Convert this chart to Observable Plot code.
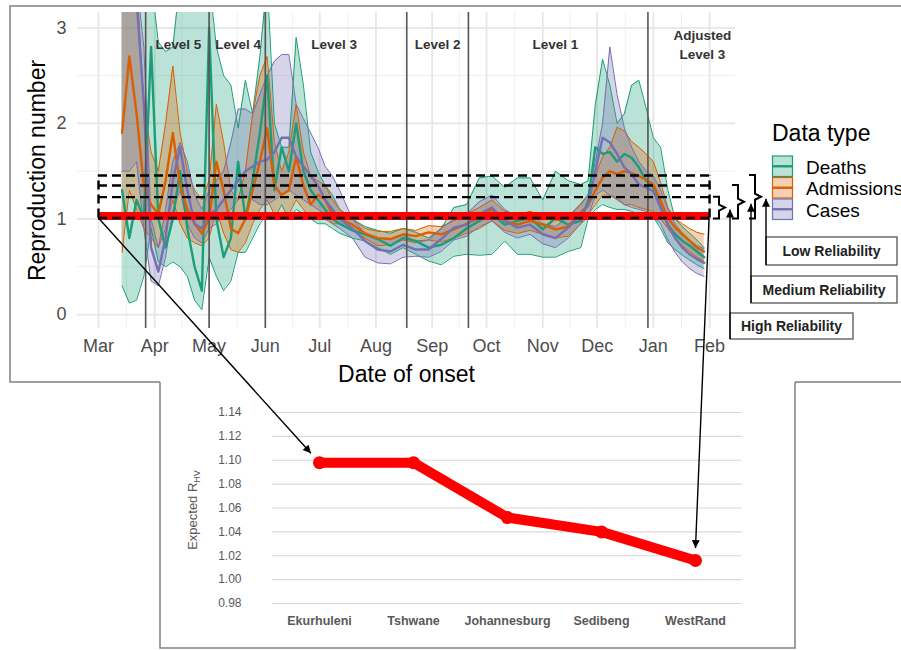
<!DOCTYPE html>
<html><head><meta charset="utf-8">
<script src="https://cdn.jsdelivr.net/npm/d3@7"></script>
<script src="https://cdn.jsdelivr.net/npm/@observablehq/plot@0.6"></script>
<style>
html,body{margin:0;padding:0;background:#fff;}
#wrap{position:relative;width:901px;height:650px;overflow:hidden;background:#fff;font-family:"Liberation Sans",Arial,sans-serif;}
</style></head><body><div id="wrap"></div>
<script>
// ---------------- data: top panel (reproduction number) ----------------
const dateStrs = ["2020-03-14","2020-03-18","2020-03-22","2020-03-26","2020-03-30","2020-04-03","2020-04-07","2020-04-11","2020-04-15","2020-04-19","2020-04-23","2020-04-27","2020-05-01","2020-05-05","2020-05-09","2020-05-13","2020-05-17","2020-05-21","2020-05-25","2020-05-29","2020-06-02","2020-06-06","2020-06-10","2020-06-14","2020-06-18","2020-06-22","2020-06-26","2020-06-30","2020-07-04","2020-07-08","2020-07-12",
"2020-07-19","2020-07-26","2020-08-02","2020-08-09","2020-08-16","2020-08-23","2020-08-30","2020-09-06","2020-09-13","2020-09-20","2020-09-27","2020-10-04","2020-10-11","2020-10-18","2020-10-25","2020-11-01","2020-11-08","2020-11-15","2020-11-22",
"2020-11-26","2020-11-30","2020-12-04","2020-12-08","2020-12-12","2020-12-16","2020-12-20","2020-12-24","2020-12-28","2021-01-01","2021-01-05","2021-01-09","2021-01-13","2021-01-17","2021-01-21","2021-01-25","2021-01-29"];

const deathsMean = [1.3,0.8,1.2,1.0,2.8,1.0,0.7,1.0,1.5,0.9,0.5,0.25,3.0,1.0,0.6,0.8,1.6,1.0,1.4,1.9,2.5,1.3,1.75,1.5,2.0,1.5,1.3,1.2,1.1,1.0,0.95,
 0.88,0.84,0.79,0.72,0.8,0.77,0.7,0.73,0.8,0.9,0.98,1.05,0.94,0.98,1.01,0.89,1.01,0.94,0.98,
 1.19,1.75,1.68,1.7,1.6,1.68,1.64,1.54,1.4,1.33,1.12,0.94,0.84,0.77,0.72,0.66,0.6];
const deathsLo = [0.3,0.12,0.15,0.4,0.9,0.55,0.5,0.55,0.5,0.4,0.15,0.05,0.6,0.4,0.25,0.35,0.65,0.65,0.8,0.95,1.05,1.0,1.15,1.0,1.1,1.05,1.0,0.95,0.95,0.9,0.85,
 0.8,0.77,0.7,0.63,0.7,0.63,0.56,0.52,0.61,0.63,0.62,0.63,0.77,0.63,0.63,0.6,0.6,0.66,0.7,
 1.0,1.1,1.15,1.12,1.1,1.1,1.08,1.05,1.05,1.02,0.9,0.75,0.68,0.62,0.57,0.52,0.48];
const deathsHi = [3.5,3.5,3.5,3.5,3.5,2.85,2.75,2.8,3.5,3.5,3.5,3.5,3.5,2.8,2.5,2.4,1.95,2.45,2.1,2.7,3.5,2.0,1.75,1.75,2.9,2.4,1.7,1.5,1.35,1.25,1.1,
 1.0,0.92,0.88,0.85,0.9,0.86,0.8,0.9,1.12,1.15,1.43,1.45,1.33,1.43,1.43,1.2,1.5,1.4,1.36,
 1.4,2.2,2.67,2.4,2.0,2.1,2.4,2.45,2.16,1.85,1.75,1.3,1.0,0.92,0.85,0.78,0.7];

const admissionsMean = [1.9,2.7,2.1,1.35,1.15,1.05,1.4,1.9,1.35,1.1,0.95,0.85,1.0,1.6,1.3,0.9,0.85,1.0,1.3,1.6,1.95,1.35,1.25,1.3,1.65,1.35,1.15,1.25,1.2,1.05,1.0,
 0.94,0.85,0.8,0.79,0.84,0.82,0.86,0.84,0.89,0.95,1.01,1.1,0.98,0.94,0.98,0.94,0.89,0.92,1.07,
 1.14,1.3,1.43,1.5,1.47,1.5,1.48,1.45,1.41,1.36,1.19,1.01,0.91,0.84,0.77,0.7,0.66];
const admissionsLo = [0.65,1.3,1.1,0.9,0.8,0.7,0.9,1.2,0.95,0.8,0.75,0.72,0.8,1.1,0.85,0.68,0.65,0.75,0.95,1.1,1.2,1.05,1.05,1.05,1.2,1.1,1.0,1.05,1.0,0.95,0.95,
 0.88,0.8,0.72,0.73,0.78,0.75,0.78,0.76,0.8,0.85,0.9,0.98,0.88,0.85,0.88,0.84,0.8,0.82,0.95,
 1.05,1.15,1.25,1.25,1.22,1.15,1.15,1.12,1.1,1.08,1.0,0.9,0.8,0.72,0.66,0.6,0.56];
const admissionsHi = [3.5,3.5,3.5,2.2,1.7,1.5,2.0,2.6,1.9,1.5,1.3,1.2,1.4,2.2,1.8,1.3,1.2,1.5,2.1,2.5,2.7,1.8,1.5,1.7,2.2,1.7,1.45,1.4,1.35,1.2,1.1,
 1.0,0.9,0.87,0.87,0.9,0.88,0.93,0.92,0.98,1.05,1.12,1.2,1.08,1.04,1.08,1.03,0.98,1.02,1.16,
 1.25,1.45,1.65,1.75,1.96,1.92,1.81,1.75,1.68,1.6,1.38,1.12,1.0,0.95,0.9,0.86,0.84];

const casesMean = [3.5,3.5,3.3,2.2,0.7,0.45,0.8,1.4,1.75,1.3,0.95,0.9,1.05,1.1,1.2,1.3,1.4,1.5,1.55,1.6,1.62,1.7,1.85,1.85,1.65,1.55,1.45,1.35,1.2,1.1,1.0,
 0.9,0.77,0.68,0.66,0.73,0.68,0.68,0.79,0.91,0.94,1.05,1.12,0.98,0.91,0.94,0.84,0.8,0.91,1.05,
 1.14,1.5,1.85,1.8,1.68,1.54,1.47,1.36,1.33,1.29,1.12,0.94,0.8,0.7,0.63,0.58,0.54];
const casesLo = [1.5,1.5,1.6,0.9,0.35,0.3,0.6,1.1,1.3,0.95,0.8,0.75,0.9,0.95,1.05,1.1,1.2,1.25,1.2,1.15,1.15,1.2,1.25,1.3,1.25,1.2,1.15,1.1,1.05,0.95,0.9,
 0.8,0.6,0.54,0.53,0.6,0.61,0.6,0.66,0.78,0.82,0.92,0.98,0.86,0.8,0.84,0.74,0.7,0.8,0.95,
 1.02,1.25,1.3,1.25,1.2,1.15,1.12,1.1,1.08,1.02,0.95,0.78,0.65,0.55,0.48,0.43,0.4];
const casesHi = [3.5,3.5,3.5,2.8,1.0,0.7,1.1,1.6,1.8,1.6,1.25,1.1,1.3,1.4,1.5,1.8,2.15,2.15,2.1,2.3,2.5,2.65,2.72,2.72,2.2,2.05,1.9,1.75,1.55,1.45,1.3,
 1.0,0.85,0.8,0.79,0.83,0.77,0.78,0.9,1.0,1.05,1.18,1.25,1.1,1.02,1.05,0.95,0.92,1.02,1.15,
 1.25,1.6,2.0,2.8,2.3,1.95,1.75,1.6,1.5,1.45,1.3,1.1,0.95,0.85,0.78,0.72,0.69];

const seriesNames = ["Deaths","Admissions","Cases"];
const seriesColors = ["#1b9e77","#d95f02","#7570b3"];

const monthTickStrs = ["2020-03-01","2020-04-01","2020-05-01","2020-06-01","2020-07-01","2020-08-01","2020-09-01","2020-10-01","2020-11-01","2020-12-01","2021-01-01","2021-02-01"];
const monthLabels = ["Mar","Apr","May","Jun","Jul","Aug","Sep","Oct","Nov","Dec","Jan","Feb"];
const yTicksTop = [0,1,2,3];
const yMinorTop = [0.5,1.5,2.5];

const levelDateStrs = ["2020-03-27","2020-05-01","2020-06-01","2020-08-18","2020-09-21","2020-12-29"];
const levelLabels = ["Level 5","Level 4","Level 3","Level 2","Level 1","Adjusted\nLevel 3"];
const levelLabelDateStrs = ["2020-04-14","2020-05-17","2020-07-09","2020-09-04","2020-11-08","2021-01-28"];
const levelLabelY = 2.84;

const thresholdStartStr = "2020-03-01", thresholdEndStr = "2021-02-01";
const reliabilityThresholds = [1.01, 1.228, 1.35, 1.455];
const expectedRLine = 1.03;
const reliabilityLabels = ["High Reliability","Medium Reliability","Low Reliability"];

// ---------------- data: lower panel (expected R_HV) ----------------
const districts = ["Ekurhuleni","Tshwane","Johannesburg","Sedibeng","WestRand"];
const expectedRHV = [1.098, 1.098, 1.052, 1.040, 1.016];
const yTicksLow = [0.98,1.00,1.02,1.04,1.06,1.08,1.10,1.12,1.14];

// ---------------- build ----------------
const parse = d3.utcParse("%Y-%m-%d");
const seriesTable = {Deaths:[deathsLo,deathsMean,deathsHi], Admissions:[admissionsLo,admissionsMean,admissionsHi], Cases:[casesLo,casesMean,casesHi]};
const rows = [];
seriesNames.forEach(name => {
  const [lo, m, hi] = seriesTable[name];
  dateStrs.forEach((s, i) => rows.push({type: name, date: parse(s), lo: lo[i], mean: m[i], hi: hi[i]}));
});
const monthTicks = monthTickStrs.map(parse);
const minorX = monthTicks.slice(1).map((d, i) => new Date((+monthTicks[i] + +d) / 2));
const levelDates = levelDateStrs.map(parse);
const levelLabelDates = levelLabelDateStrs.map(parse);
const tStart = parse(thresholdStartStr), tEnd = parse(thresholdEndStr);

const FONT = "'Liberation Sans', Arial, Helvetica, sans-serif";
const seriesMarks = [];
seriesNames.forEach((name, k) => {
  seriesMarks.push(Plot.areaY(rows, {filter: d => d.type === name, x: "date", y1: "lo", y2: "hi", fill: seriesColors[k], fillOpacity: 0.3, clip: true}));
});
seriesNames.forEach((name, k) => {
  seriesMarks.push(Plot.lineY(rows, {filter: d => d.type === name, x: "date", y: "lo", stroke: seriesColors[k], strokeWidth: 1, clip: true}));
  seriesMarks.push(Plot.lineY(rows, {filter: d => d.type === name, x: "date", y: "hi", stroke: seriesColors[k], strokeWidth: 1, clip: true}));
});
seriesNames.forEach((name, k) => {
  seriesMarks.push(Plot.lineY(rows, {filter: d => d.type === name, x: "date", y: "mean", stroke: seriesColors[k], strokeWidth: 2.4, clip: true}));
});

const topChart = Plot.plot({
  width: 901, height: 390,
  marginLeft: 77, marginRight: 166, marginTop: 12, marginBottom: 62,
  style: {fontFamily: FONT, background: "transparent", overflow: "visible"},
  x: {type: "utc", domain: [new Date("2020-02-18T10:00Z"), new Date("2021-02-15T07:00Z")]},
  y: {domain: [-0.146, 3.16]},
  marks: [
    Plot.gridY(yMinorTop, {stroke: "#f0f0f0", strokeOpacity: 1, strokeWidth: 1}),
    Plot.gridX(minorX, {stroke: "#f0f0f0", strokeOpacity: 1, strokeWidth: 1}),
    Plot.gridY(yTicksTop, {stroke: "#e6e6e6", strokeOpacity: 1, strokeWidth: 1.8}),
    Plot.gridX(monthTicks, {stroke: "#e6e6e6", strokeOpacity: 1, strokeWidth: 1.8}),
    ...seriesMarks,
    Plot.ruleX(levelDates, {stroke: "#555555", strokeWidth: 1.6}),
    Plot.ruleY([expectedRLine], {x1: () => tStart, x2: () => tEnd, stroke: "#ff0000", strokeWidth: 8}),
    Plot.ruleY(reliabilityThresholds, {x1: () => tStart, x2: () => tEnd, stroke: "#000", strokeWidth: 2.4, strokeDasharray: "9,5"}),
    Plot.ruleX([tStart, tEnd], {y1: reliabilityThresholds[0], y2: reliabilityThresholds[3], stroke: "#000", strokeWidth: 2.4, strokeDasharray: "9,5"}),
    Plot.text(levelLabels, {x: (d, i) => levelLabelDates[i], y: levelLabelY, text: d => d, fontWeight: "bold", fontSize: 13.5, fill: "#333", lineHeight: 1.4}),
    Plot.axisX({ticks: monthTicks, tickFormat: d => monthLabels[monthTicks.findIndex(t => +t === +d)], tickSize: 0, tickPadding: 11, fontSize: 18, color: "#4d4d4d", label: null}),
    Plot.axisY({ticks: yTicksTop, tickFormat: d3.format("d"), tickSize: 0, tickPadding: 11, fontSize: 18, color: "#4d4d4d", label: null}),
    Plot.text(["Reproduction number"], {frameAnchor: "left", textAnchor: "middle", lineAnchor: "middle", dx: -40, rotate: -90, fontSize: 23, fill: "#000"}),
    Plot.text(["Date of onset"], {frameAnchor: "bottom", textAnchor: "middle", lineAnchor: "middle", dy: 46, fontSize: 23, fill: "#000"})
  ]
});

const lowData = districts.map((d, i) => ({district: d, r: expectedRHV[i]}));
const lowChart = Plot.plot({
  width: 635, height: 265,
  marginLeft: 112, marginRight: 53, marginTop: 29, marginBottom: 45,
  style: {fontFamily: FONT, background: "#fff", overflow: "visible"},
  x: {type: "point", domain: districts, padding: 0.5},
  y: {domain: [0.98, 1.14]},
  marks: [
    Plot.gridY(yTicksLow, {stroke: "#d9d9d9", strokeOpacity: 1, strokeWidth: 1.2}),
    Plot.line(lowData, {x: "district", y: "r", stroke: "#ff0000", strokeWidth: 10, strokeLinejoin: "round"}),
    Plot.dot(lowData, {x: "district", y: "r", r: 6.5, fill: "#ff0000"}),
    Plot.axisY({ticks: yTicksLow, tickFormat: d3.format(".2f"), tickSize: 0, tickPadding: 31, fontSize: 12, color: "#595959", label: null}),
    Plot.axisX({tickSize: 0, tickPadding: 13, fontSize: 12.5, fontWeight: "bold", color: "#595959", label: null})
  ]
});

const wrap = document.getElementById("wrap");
topChart.style.position = "absolute"; topChart.style.left = "0px"; topChart.style.top = "0px";
lowChart.style.position = "absolute"; lowChart.style.left = "160px"; lowChart.style.top = "383px";
wrap.appendChild(topChart);
wrap.appendChild(lowChart);

// lower y-axis title with subscript
const lsvg = d3.select(lowChart);
lsvg.selectAll('[aria-label="x-axis tick label"] text').attr("font-weight", "bold");
const yt = lsvg.append("text")
  .attr("transform", `translate(37,127) rotate(-90)`)
  .attr("text-anchor", "middle").attr("fill", "#595959").attr("font-size", 13).attr("font-family", FONT);
yt.append("tspan").text("Expected R");
yt.append("tspan").attr("font-size", 9).attr("dy", 3).text("HV");

// ---------------- overlay annotations ----------------
const xT = topChart.scale("x"), yT = topChart.scale("y");
const xL = lowChart.scale("x"), yL = lowChart.scale("y");
const ov = d3.select(wrap).append("svg")
  .attr("width", 901).attr("height", 650)
  .style("position", "absolute").style("left", "0px").style("top", "0px")
  .attr("font-family", FONT);
const defs = ov.append("defs");
defs.append("marker").attr("id", "ah").attr("viewBox", "0 0 10 10").attr("refX", 10).attr("refY", 5)
  .attr("markerWidth", 9).attr("markerHeight", 8).attr("markerUnits", "userSpaceOnUse").attr("orient", "auto")
  .append("path").attr("d", "M0,0 L10,5 L0,10 z").attr("fill", "#000");

// figure outline (two pasted panels)
ov.append("path")
  .attr("d", "M160,382 H10 V6 H905 M795,382 H905 M160,382 V648 H795 V382")
  .attr("fill", "none").attr("stroke", "#808080").attr("stroke-width", 1.5);

// reliability brackets and boxes
const yBase = yT.apply(reliabilityThresholds[0]);
const brackets = [
  {x0: 713, top: reliabilityThresholds[1], ax: 730, box: [730, 853, 313, 339]},
  {x0: 732, top: reliabilityThresholds[2], ax: 751, box: [751, 897, 276, 303]},
  {x0: 749, top: reliabilityThresholds[3], ax: 766, box: [766, 897, 237, 265]}
];
brackets.forEach((b, i) => {
  const yt0 = yT.apply(b.top), yb = yBase + 1, ym = (yt0 + yb) / 2, w = 12;
  ov.append("path")
    .attr("d", `M${b.x0},${yt0} H${b.x0 + w / 2} V${ym - 3} L${b.x0 + w},${ym} L${b.x0 + w / 2},${ym + 3} V${yb} H${b.x0}`)
    .attr("fill", "none").attr("stroke", "#000").attr("stroke-width", 2);
  const [bx0, bx1, by0, by1] = b.box;
  ov.append("rect").attr("x", bx0).attr("y", by0).attr("width", bx1 - bx0).attr("height", by1 - by0)
    .attr("fill", "#fff").attr("stroke", "#555").attr("stroke-width", 1.3);
  ov.append("text").attr("x", (bx0 + bx1) / 2).attr("y", (by0 + by1) / 2).attr("text-anchor", "middle")
    .attr("dominant-baseline", "central").attr("font-size", 14).attr("font-weight", "bold").attr("fill", "#222")
    .text(reliabilityLabels[i]);
  ov.append("line").attr("x1", b.ax).attr("y1", by1).attr("x2", b.ax).attr("y2", ym + 2)
    .attr("stroke", "#000").attr("stroke-width", 1.4).attr("marker-end", "url(#ah)");
});

// legend
const lg = ov.append("g");
lg.append("text").attr("x", 772).attr("y", 133).attr("dominant-baseline", "central").attr("font-size", 23).text("Data type");
seriesNames.forEach((name, i) => {
  const y0 = 156 + i * 21.5;
  lg.append("rect").attr("x", 772.5).attr("y", y0).attr("width", 20).attr("height", 20.5)
    .attr("fill", seriesColors[i]).attr("fill-opacity", 0.3).attr("stroke", seriesColors[i]).attr("stroke-width", 1.2);
  lg.append("line").attr("x1", 772.5).attr("x2", 792.5).attr("y1", y0 + 10.25).attr("y2", y0 + 10.25)
    .attr("stroke", seriesColors[i]).attr("stroke-width", 2.4);
  lg.append("text").attr("x", 806).attr("y", y0 + 11).attr("dominant-baseline", "central").attr("font-size", 19).text(name);
});

// connecting arrows from the threshold line to the district chart
function connect(date, iDistrict) {
  const x1 = xT.apply(date), y1 = yT.apply(reliabilityThresholds[0]);
  const px = 160 + xL.apply(districts[iDistrict]), py = 383 + yL.apply(expectedRHV[iDistrict]);
  const dx = x1 - px, dy = y1 - py, len = Math.hypot(dx, dy);
  const ex = px + dx / len * 12, ey = py + dy / len * 12;
  ov.append("line").attr("x1", x1).attr("y1", y1).attr("x2", ex).attr("y2", ey)
    .attr("stroke", "#000").attr("stroke-width", 1.4).attr("marker-end", "url(#ah)");
}
connect(tStart, 0);
connect(tEnd, districts.length - 1);
</script></body></html>
